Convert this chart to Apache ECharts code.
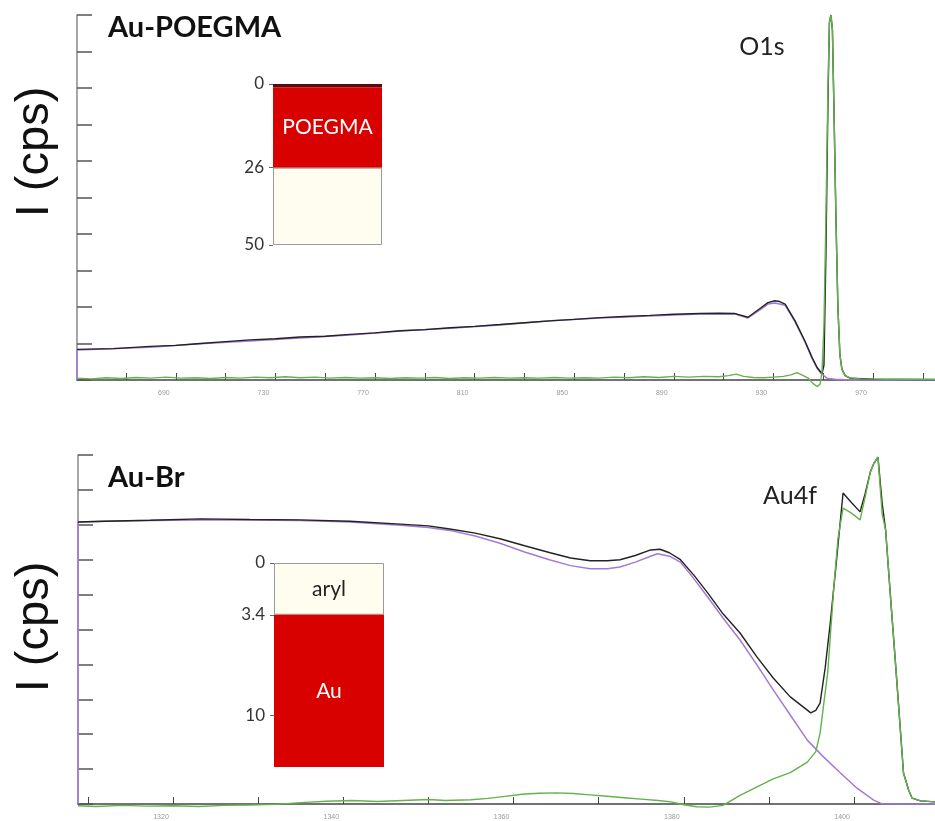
<!DOCTYPE html>
<html><head><meta charset="utf-8">
<script src="https://cdn.jsdelivr.net/npm/echarts@6/dist/echarts.min.js"></script>
<style>html,body{margin:0;padding:0;background:#fff}#c{width:935px;height:821px}</style>
</head><body><div id="c"></div>
<script>
// ---------- Top panel (Au-POEGMA, O1s) ----------
const topTicks = [650,670,690,710,730,750,770,790,810,830,850,870,890,910,930,950,970,990];
const topTickLabels = [690,730,770,810,850,890,930,970];
const topBackground = [[650.3,0],[650.3,0.82],[679.7,0.90],[699.8,0.99],[719.8,1.07],[739.9,1.15],[760.0,1.23],[780.1,1.34],[800.2,1.42],[820.2,1.51],[840.3,1.62],[860.4,1.70],[880.4,1.75],[900.5,1.81],[914.6,1.81],[919.8,1.70],[924.6,1.92],[927.8,2.08],[930.6,2.11],[934.7,2.05],[938.7,1.59],[942.7,1.04],[945.5,0.60],[947.5,0.33],[949.5,0.16],[951.5,0.05],[954.7,0.02],[960.8,0],[994.9,0]];
const topMeasured = [[650.3,0.84],[665,0.86],[679.7,0.92],[690,0.95],[699.8,1.00],[710,1.05],[719.8,1.10],[730,1.13],[739.9,1.18],[750,1.20],[760,1.25],[770,1.29],[780.1,1.35],[790,1.38],[800.2,1.43],[810,1.47],[820.2,1.52],[830,1.57],[840.3,1.62],[850,1.66],[860.4,1.71],[870,1.74],[880.4,1.77],[890,1.80],[900.5,1.82],[908,1.83],[914.6,1.82],[919.8,1.72],[924.6,1.96],[927.8,2.12],[930.6,2.17],[932.5,2.15],[934.7,2.08],[938.7,1.62],[942.7,1.06],[945.5,0.62],[947.5,0.35],[949.5,0.17],[950.3,0.4],[951.1,3.5],[951.9,7.6],[952.5,9.8],[953.1,10.0],[953.7,9.6],[954.3,7.5],[955.1,4.5],[955.9,2.0],[956.7,0.7],[957.5,0.3],[958.8,0.12],[960.8,0.05],[970,0.02],[994.9,0.01]];
const topComponent = [[650.3,0.05],[656,0.03],[662,0.06],[668,0.04],[674,0.07],[680,0.05],[686,0.08],[692,0.05],[698,0.06],[704,0.04],[710,0.07],[716,0.05],[722,0.08],[728,0.06],[734,0.09],[740,0.06],[746,0.08],[752,0.05],[758,0.07],[764,0.05],[770,0.06],[776,0.04],[782,0.06],[788,0.05],[794,0.07],[800,0.04],[806,0.06],[812,0.05],[818,0.07],[824,0.05],[830,0.06],[836,0.05],[842,0.07],[848,0.05],[854,0.06],[860,0.05],[866,0.08],[872,0.06],[878,0.09],[884,0.07],[890,0.10],[896,0.08],[902,0.10],[908,0.09],[912,0.12],[915,0.16],[918,0.10],[922,0.07],[926,0.06],[930,0.08],[934,0.10],[937,0.14],[939.5,0.20],[942,0.12],[944,0.05],[946,-0.10],[947.5,-0.18],[948.7,-0.12],[949.5,0.2],[950.3,1.5],[951.1,4.5],[951.9,8.0],[952.5,9.8],[953.1,10.0],[953.7,9.6],[954.3,7.5],[955.1,4.5],[955.9,2.0],[956.7,0.7],[957.5,0.3],[958.8,0.12],[960.8,0.06],[965,0.03],[975,0.02],[994.9,0.02]];

// ---------- Bottom panel (Au-Br, Au4f) ----------
const botTicks = [1310,1320,1330,1340,1350,1360,1370,1380,1390,1400];
const botTickLabels = [1320,1340,1360,1380,1400];
const botBackground = [[1308.84,0],[1308.84,8.08],[1312,8.10],[1317.3,8.12],[1323.2,8.14],[1329,8.14],[1334.9,8.12],[1340.8,8.08],[1346.7,7.99],[1350,7.92],[1352.5,7.84],[1355.5,7.68],[1358.4,7.47],[1361.3,7.22],[1364.3,6.99],[1366.7,6.83],[1369,6.74],[1371,6.74],[1372.5,6.79],[1374.3,6.93],[1376.1,7.10],[1376.9,7.17],[1378.3,7.10],[1379.6,6.93],[1381.1,6.48],[1382.8,5.93],[1384.6,5.33],[1386.6,4.70],[1388.6,3.98],[1390.5,3.27],[1392.5,2.55],[1394.5,1.83],[1396.4,1.35],[1398.4,0.89],[1400.3,0.46],[1402.3,0.11],[1403.2,0.01],[1409.5,0]];
const botMeasured = [[1308.84,8.08],[1312,8.10],[1317.3,8.13],[1323.2,8.17],[1329,8.15],[1334.9,8.14],[1340.8,8.10],[1346.7,8.02],[1350,7.97],[1352.5,7.88],[1355.5,7.76],[1358.4,7.60],[1361.3,7.40],[1364.3,7.20],[1366.7,7.05],[1369,6.97],[1371,6.97],[1372.5,7.00],[1374.3,7.12],[1376.1,7.28],[1377.2,7.30],[1378.3,7.20],[1379.6,7.00],[1381.2,6.55],[1382.8,6.05],[1384.6,5.45],[1386.6,4.90],[1388.6,4.21],[1390.5,3.61],[1392.5,3.07],[1394.5,2.69],[1394.9,2.61],[1395.5,2.68],[1396.0,2.89],[1396.6,3.90],[1397.2,5.19],[1397.9,6.90],[1398.7,8.91],[1399.6,8.66],[1400.7,8.37],[1401.3,8.90],[1401.9,9.51],[1402.3,9.75],[1402.8,9.94],[1403.3,8.60],[1403.7,7.85],[1404.3,5.85],[1404.9,3.90],[1405.5,1.90],[1405.8,0.89],[1406.4,0.40],[1406.8,0.17],[1407.8,0.09],[1409.5,0.06]];
const botComponent = [[1308.84,-0.05],[1311,-0.07],[1314,-0.04],[1317,-0.06],[1320,-0.05],[1323,-0.07],[1326,-0.04],[1329,-0.03],[1332,-0.01],[1335,0.04],[1338,0.08],[1341,0.10],[1344,0.07],[1347,0.10],[1350,0.13],[1352,0.10],[1355,0.12],[1357,0.16],[1359,0.22],[1361,0.28],[1363,0.31],[1365,0.32],[1367,0.30],[1369,0.26],[1371,0.22],[1373,0.18],[1375,0.14],[1377,0.10],[1378.5,0.06],[1380,-0.02],[1381.5,-0.08],[1383,-0.09],[1384.6,-0.04],[1386.6,0.25],[1388.6,0.49],[1390.5,0.72],[1392.5,0.90],[1394.5,1.20],[1395.5,1.50],[1396.0,2.03],[1396.9,3.77],[1397.6,6.16],[1398.1,7.60],[1398.7,8.48],[1399.6,8.35],[1400.7,8.14],[1401.3,8.80],[1401.9,9.51],[1402.3,9.75],[1402.8,9.94],[1403.3,8.30],[1403.7,7.85],[1404.3,5.85],[1404.9,3.90],[1405.5,1.90],[1405.8,0.89],[1406.4,0.40],[1406.8,0.17],[1407.8,0.09],[1409.5,0.06]];

// ---------- Insets (layer depth schematics) ----------
const poegmaDepthLabels = [0, 26, 50];
const poegmaLayerNames = ['', 'POEGMA', ''];
const poegmaLayerThickness = [1, 25, 24];
const brDepthLabels = [0, 3.4, 10];
const brLayerNames = ['aryl', 'Au'];
const brLayerThickness = [3.4, 10];

// ---------- styles ----------
const C_PURPLE = '#a27bd6', C_BLACK = '#222', C_GREEN = '#63b24b';
const poegmaColors = ['#5a0c0c', '#d90000', '#fffdf0'];
const poegmaText = ['#fff', '#fff', '#222'];
const brColors = ['#fffdf0', '#d90000'];
const brText = ['#222', '#fff'];

function mainX(gi, min, max, ticks, labels) {
  return {
    type: 'value', gridIndex: gi, min: min, max: max,
    axisLine: { lineStyle: { color: '#444', width: 1.5 } },
    axisTick: { inside: true, length: 7, customValues: ticks, lineStyle: { color: '#444', width: 1 } },
    axisLabel: { customValues: labels, formatter: function (v) { return String(v); }, fontSize: 7, color: '#9a9a9a', margin: 10, padding: [0, 24, 0, 0] },
    splitLine: { show: false }
  };
}
function mainY(gi) {
  return {
    type: 'value', gridIndex: gi, min: 0, max: 10, interval: 1,
    axisLine: { lineStyle: { color: '#8a8a8a', width: 1.5 } },
    axisTick: { inside: true, length: 15, lineStyle: { color: '#555', width: 1.5 } },
    axisLabel: { show: false }, splitLine: { show: false }
  };
}
function line(name, gi, data, color, w, z) {
  return { name: name, type: 'line', xAxisIndex: gi, yAxisIndex: gi, data: data, showSymbol: false, symbol: 'none',
    clip: false, lineStyle: { color: color, width: w }, z: z, animation: false };
}
function insetBars(gi, names, thick, colors, textColors) {
  return thick.map(function (t, i) {
    return {
      type: 'bar', xAxisIndex: gi, yAxisIndex: gi, stack: 'layers' + gi, barWidth: '100%', data: [t],
      itemStyle: { color: colors[i], borderColor: colors[i] === '#fffdf0' ? '#9a9a9a' : colors[i], borderWidth: colors[i] === '#fffdf0' ? 1 : 0 },
      label: { show: names[i] !== '', position: 'inside', formatter: names[i], color: textColors[i], fontSize: 21, fontFamily: 'Lato' },
      animation: false, z: 5
    };
  });
}
function insetX(gi) {
  return { type: 'category', gridIndex: gi, data: ['layer'], show: false };
}
function insetY(gi, max, labels) {
  return {
    type: 'value', gridIndex: gi, inverse: true, min: 0, max: max,
    axisLine: { show: false },
    axisTick: { show: true, length: 4, customValues: labels, lineStyle: { color: '#666' } },
    axisLabel: { customValues: labels, fontSize: 17, color: '#333', margin: 9, fontFamily: 'Lato' },
    splitLine: { show: false }
  };
}

const chart = echarts.init(document.getElementById('c'), null, { renderer: 'canvas' });
chart.setOption({
  backgroundColor: '#fff',
  animation: false,
  grid: [
    { left: 77, top: 15, width: 858, height: 365 },
    { left: 78, top: 455, width: 857, height: 349 },
    { left: 273, top: 84, width: 109, height: 161 },
    { left: 274, top: 563, width: 110, height: 204 }
  ],
  xAxis: [
    mainX(0, 650.3, 994.9, topTicks, topTickLabels),
    mainX(1, 1308.84, 1409.5, botTicks, botTickLabels),
    insetX(2), insetX(3)
  ],
  yAxis: [ mainY(0), mainY(1), insetY(2, 50, poegmaDepthLabels), insetY(3, 13.4, brDepthLabels) ],
  series: [
    line('background', 0, topBackground, C_PURPLE, 1.5, 2),
    line('measured', 0, topMeasured, C_BLACK, 1.4, 3),
    line('O1s', 0, topComponent, C_GREEN, 1.4, 4),
    line('background', 1, botBackground, C_PURPLE, 1.5, 2),
    line('measured', 1, botMeasured, C_BLACK, 1.4, 3),
    line('Au4f', 1, botComponent, C_GREEN, 1.4, 4)
  ].concat(insetBars(2, poegmaLayerNames, poegmaLayerThickness, poegmaColors, poegmaText))
   .concat(insetBars(3, brLayerNames, brLayerThickness, brColors, brText)),
  graphic: [
    { type: 'text', x: 35, y: 152, rotation: Math.PI / 2, style: { text: 'I (cps)', x: 0, y: 0, textAlign: 'center', textVerticalAlign: 'middle', font: '47px "Liberation Sans", Arial, sans-serif', fill: '#111' } },
    { type: 'text', x: 35, y: 627, rotation: Math.PI / 2, style: { text: 'I (cps)', x: 0, y: 0, textAlign: 'center', textVerticalAlign: 'middle', font: '47px "Liberation Sans", Arial, sans-serif', fill: '#111' } },
    { type: 'text', x: 108, y: 28, style: { text: 'Au-POEGMA', textAlign: 'left', textVerticalAlign: 'middle', font: 'bold 29px Lato, sans-serif', fill: '#111' } },
    { type: 'text', x: 108, y: 478, style: { text: 'Au-Br', textAlign: 'left', textVerticalAlign: 'middle', font: 'bold 29px Lato, sans-serif', fill: '#111' } },
    { type: 'text', x: 762, y: 47, style: { text: 'O1s', textAlign: 'center', textVerticalAlign: 'middle', font: '25px Lato, sans-serif', fill: '#222' } },
    { type: 'text', x: 790, y: 496, style: { text: 'Au4f', textAlign: 'center', textVerticalAlign: 'middle', font: '25px Lato, sans-serif', fill: '#222' } }
  ]
});
</script></body></html>
